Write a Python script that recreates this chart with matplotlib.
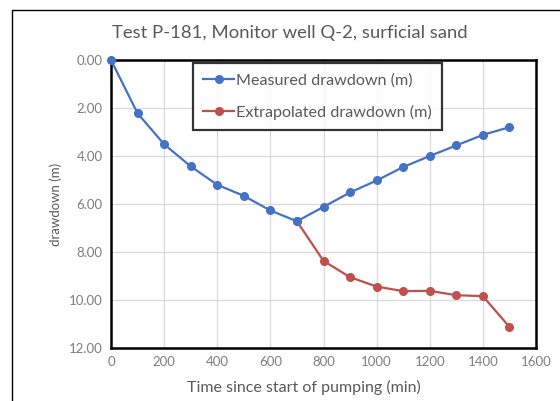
#Pumping test P-181, monitor well Q-2: measured vs extrapolated drawdown
import matplotlib.pyplot as plt
from matplotlib.patches import Rectangle

t_meas = [0, 100, 200, 300, 400, 500, 600, 700, 800, 900, 1000, 1100, 1200, 1300, 1400, 1500]
dd_meas = [0.0, 2.22, 3.51, 4.43, 5.2, 5.66, 6.27, 6.72, 6.12, 5.52, 5.02, 4.46, 4.0, 3.56, 3.12, 2.8]
t_extr = [700, 800, 900, 1000, 1100, 1200, 1300, 1400, 1500]
dd_extr = [6.72, 8.37, 9.05, 9.44, 9.63, 9.62, 9.8, 9.84, 11.12]
xticks = list(range(0, 1601, 200))
yticks = [0, 2, 4, 6, 8, 10, 12]

plt.rcParams.update({"font.family": ["Lato", "DejaVu Sans"]})

BLUE = "#4472C4"
RED = "#C0504D"
TXT = "#595959"
TICK = "#7F7F7F"

fig = plt.figure(figsize=(5.6, 4.01), dpi=100)
ax = fig.add_axes([111/560, 53/401, 425/560, 288/401])

ax.plot(t_meas, dd_meas, "-o", color=BLUE, lw=1.6, ms=5.5, zorder=4, clip_on=False,
        label="Measured drawdown (m)")
ax.plot(t_extr, dd_extr, "-o", color=RED, lw=1.6, ms=5.5, zorder=3, clip_on=False,
        label="Extrapolated drawdown (m)")

ax.set_xlim(0, 1600)
ax.set_ylim(12, 0)
ax.set_xticks(xticks)
ax.set_yticks(yticks)
ax.set_yticklabels([f"{v:.2f}" for v in yticks])
ax.grid(True, color="#D9D9D9", lw=0.9)
ax.set_axisbelow(True)
ax.tick_params(length=0, labelsize=9.5, labelcolor=TICK, pad=6)
for s in ax.spines.values():
    s.set_linewidth(1.8)
    s.set_color("black")

ax.set_xlabel("Time since start of pumping (min)", fontsize=11.5, color=TXT, labelpad=8)
ax.xaxis.label.set_x((304 - 111) / 425)
ax.set_ylabel("drawdown (m)", fontsize=9.5, color=TXT, labelpad=5)
fig.text(290/560, 1 - 33/401, "Test P-181, Monitor well Q-2, surficial sand",
         ha="center", va="center", fontsize=13.3, color=TXT)

leg = ax.legend(loc="upper left", bbox_to_anchor=(193/560, 1 - 63/401),
                bbox_transform=fig.transFigure, fontsize=11.6, frameon=True,
                fancybox=False, edgecolor="black", handlelength=1.9,
                handletextpad=0.1, labelspacing=1.05, borderpad=0.65,
                borderaxespad=0)
leg.get_frame().set_linewidth(1.6)
for txt in leg.get_texts():
    txt.set_color(TXT)

# outer chart-area border (runs off the right and bottom edges)
fig.patches.append(Rectangle((12/560, -0.1), 1.2, 1 - 10/401 + 0.1,
                             transform=fig.transFigure, fill=False,
                             edgecolor="black", lw=1.0))

fig.savefig("out.png", dpi=100)
